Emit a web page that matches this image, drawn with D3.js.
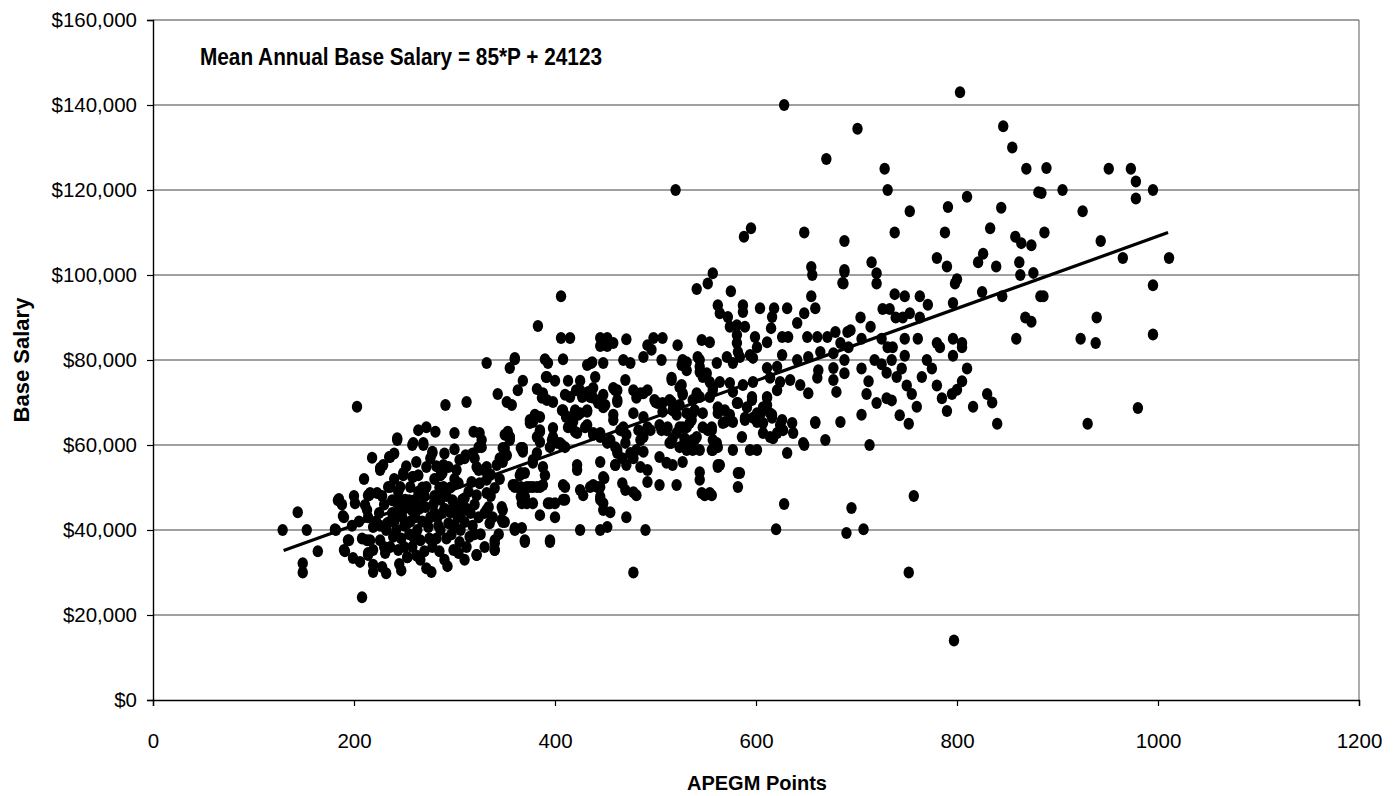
<!DOCTYPE html>
<html>
<head>
<meta charset="utf-8">
<script src="https://cdn.jsdelivr.net/npm/d3@7"></script>
<style>
  body { margin: 0; background: #fff; }
  svg text { font-family: "Liberation Sans", Arial, sans-serif; }
</style>
</head>
<body>
<div class="chart"></div>
<script>
// tick values
const xTicks = [0, 200, 400, 600, 800, 1000, 1200];
const yTicks = [0, 20000, 40000, 60000, 80000, 100000, 120000, 140000, 160000];

// regression: salary = 85 * points + 24123, drawn over this range of points
const trendCoef = [85, 24123];
const trendRange = [130, 1010];

// [APEGM points, base salary in $1000]
const ptsLeft = [
  [129,40],[144,44.2],[153,40],[149,32.2],[149,30],[164,35],[182,40],[184,47],[188,46],[190,43],[195,37.6],[191,35],
  [199,33.4],[206,32.5],[203,69],[201,46.3],[208,24.2],[214,48.2],[213,44.7],[213,37.6],[214,34.6],
  [181,40.2],[185,47.3],[189,43.3],[194,37.6],[190,35.3],[211,45.9],[215,48.2],[223,48.7],[226,54.1],[229,55.3],
  [235,57.2],[234,50.1],[246,50.1],[249,53.4],[258,52.5],[256,50.1],[264,52.9],[272,54.8],[278,58.1],[243,61.2],
  [258,60],[269,60],[276,56.9],[214,43],[219,40.7],[216,37.6],[219,35.3],[214,34.1],[219,31.8],[219,30.1],[228,31.3],
  [231,34.6],[226,37.6],[233,41.6],[239,38.4],[238,44],[243,46.3],[251,47.1],[248,43],[253,41.6],[244,35.3],[253,33.6],
  [261,47.1],[261,43],[266,37.6],[263,40],[272,50.1],[271,45.4],[274,40.7],[278,36],[277,30.1],[283,43],[286,47.1],
  [286,40],[288,53.4],[289,50.1],[294,54.8],[296,44.2],[299,35.3],[294,41.6],[302,54.1],[304,51],[307,44.2],[308,47.1],
  [305,37.2],[304,34.6],[310,41.9],[310,56.9],[315,38.4],[317,51.3],[322,54.8],[322,34.1],[322,48.2],[324,43],[327,59.5],
  [329,54.1],[332,51.8],[334,45.4],[335,41.6],[340,49.9],[340,37.6],[340,35.3],[347,45.4],[348,41.9],[350,59.3],
  [355,61.2],[348,56],[360,50.6],[365,52.9],[367,46.3],[360,40.2],[370,37.6],[367,59.3],[370,47.8],
  [225,44],[230,46],[236,42],[242,40],[247,38],[250,45],[255,39],[258,44.5],[265,45],[268,42],[276,43],[280,48],
  [282,38],[290,45],[292,38],[298,47],[300,41],[303,43],[312,45],[318,41],[320,46],[326,39],[330,44],[336,48],
  [338,43],[344,39],[236,36],[245,32],[258,36],[262,34],[270,35],[285,35],[290,33],[312,36],[330,36],[222,42],
  [228,48],[240,52],[252,55],[262,56],[268,50],[280,52],[296,50],[300,52],[314,49],[325,51],[336,53],[345,52],
  [318,58],[300,59],[290,58],[240,58],[218,57],[210,52],[205,42],[198,41],[208,38],[200,48],
  [232,29.8],[247,30.5],[272,31],[266,33],[293,31.5],[310,33],[245,44],[270,48],[282,55],
  [232,40],[238,47],[244,49],[250,41],[255,47],[260,38],[264,49],[268,45.5],[275,38],[279,46],[284,41],[288,44],
  [292,48],[297,39],[302,45.5],[306,40],[310,47.5],[316,44],[320,39],[226,41],[230,36],[250,36],[256,42],[262,46],
  [280,44],[285,50],[240,42],[246,47]
];

const ptsMid = [
  [406,95],[383,88],[406,85.2],[415,85.2],[445,85.2],[452,85.2],[445,83.3],[452,83.3],[332,79.3],[360,80.2],[355,78.1],
  [390,80.2],[393,79.3],[408,80.2],[432,78.8],[436,79.3],[448,79.3],[440,76],[368,75.1],[363,72.9],[343,72],[391,76],
  [400,75.1],[413,75.1],[425,75.1],[382,73.2],[388,72.2],[387,71.1],[392,70.6],[398,70.1],[410,71.8],[415,71.3],
  [425,72.9],[438,73.4],[435,71.3],[445,70.6],[450,69.4],[352,70.1],[357,69.4],[291,69.4],[312,70.1],[408,68.2],
  [413,66.6],[418,65.4],[423,67.1],[432,67.8],[432,64.7],[420,63.1],[385,66.6],[378,65.4],[375,65.2],[385,63.1],
  [385,60.7],[398,64],[397,61.2],[405,60.5],[410,59.5],[395,59.5],[438,62.4],[445,62.8],[452,60.5],[445,56],
  [449,52.2],[442,50.1],[425,49.4],[428,48.2],[435,50.1],[410,50.1],[410,47.1],[445,47.1],[448,44.7],[425,40],
  [445,40],[452,40.7],[422,55.3],[422,54.1],[390,52.9],[385,50.1],[378,50.1],[372,50.1],[366,50.1],[360,50.1],
  [366,47.8],[372,46.3],[378,46.3],[385,43.5],[400,43],[395,46.3],[400,46.3],[370,53.4],[366,59.3],[368,58.4],
  [378,56.5],[352,57.6],[348,59.3],[350,62.4],[355,61.9],[367,40.5],[360,40.5],[370,37.2],[395,37.2],[340,36.9],
  [340,35.3],[322,34.1],[348,44.7],[347,42.4],[325,62.8],[327,61.2],[324,59.5],[319,63.1],[300,62.8],[281,63.1],
  [272,64.2],[264,63.5],[259,60.5],[269,60.5],[243,61.6],[278,58.4],[236,57.2],[226,54.6],[249,52.9],[259,52.5],
  [289,55.3],[286,52.9],[305,56.5],[311,57.6],[320,56.9],[332,54.8],[324,54.1],[342,55.3],[236,50.1],[216,48.7],
  [271,49.9],[296,44.7],[305,44.7],[308,47.1],[332,48.7],[332,44.7],[253,33.6],
  [458,84],[471,84.9],[492,83.5],[498,85.2],[507,85.2],[496,82.4],[506,80],[522,83.5],[546,84.7],[554,84.2],
  [488,80.7],[468,80],[475,79.3],[360,80.5],[437,79.5],[392,76],[470,75.3],[516,75.8],[526,78.8],[531,79.5],
  [544,80],[544,77.2],[547,76],[554,74.8],[526,74.1],[527,72.2],[557,72.9],[541,72.2],[421,72.9],[427,71.3],
  [433,72.5],[438,71.1],[443,69.9],[448,68.9],[460,72.9],[462,70.6],[478,72.9],[485,72.2],[492,72.9],[481,71.1],
  [500,70.1],[507,69.9],[514,70.6],[517,68.2],[507,67.8],[478,67.5],[488,66.6],[492,64.2],[504,64.7],[511,63.5],
  [521,67.1],[524,64.2],[539,68.2],[536,65.9],[547,64.2],[552,63.5],[557,61.2],[517,61.6],[529,61.6],[536,60.5],
  [541,61.9],[514,60.5],[531,58.8],[537,58.8],[527,56],[517,55.3],[562,54.8],[544,53.6],[544,51.8],[546,48.7],
  [554,48.7],[504,50.6],[521,50.6],[492,51.3],[478,48.9],[481,48.2],[492,54.1],[485,54.8],[478,56.9],[475,58.1],
  [481,58.8],[485,61.2],[470,60.5],[471,62.4],[465,63.5],[458,65.9],[455,61.2],[460,59.5],[462,58.1],[467,56.9],
  [471,55.3],[467,51],[470,49.4],[460,55.3],[448,52.5],[438,50.6],[445,50.1],[445,47.8],[448,46.3],[455,44.2],
  [408,50.6],[408,47.1],[471,43],[490,40],[395,37.6],[360,40],[350,41.9],[393,46.3],[358,50.6],[366,49.4],
  [375,50.1],[382,50.1],[388,50.6],[366,53.4],[378,55.8],[388,54.8],[382,58.1],[402,60.5],[407,60],[398,61.9],
  [382,61.9],[385,63.5],[375,65.9],[380,67.1],[368,59.3],[353,63.1],[355,61.9],[345,56.9],[413,64.2],[407,68.2],
  [411,66.6],[415,65.4],[420,68.2],[425,67.5],[432,68.2],[430,64.2],[445,61.9],[438,62.8],[422,62.8],[452,60.7],
  [478,30],[520,120]
];

const ptsUpperMid = [
  [595,111],[588,109],[648,110],[688,108],[557,100.4],[552,98],[541,96.7],[575,96.2],[655,101.9],[656,100],[688,101.2],
  [686,98.1],[655,95],[659,92.2],[648,91],[641,88.7],[562,92.9],[564,91],[587,92.9],[587,91.3],[604,92.2],[618,92.2],
  [631,92.2],[616,90.1],[615,87.5],[572,90.1],[574,87.8],[581,88.2],[589,87.8],[679,86.6],[691,86.6],[626,85.4],
  [632,85.4],[651,85.4],[661,85.4],[671,85.4],[581,85.9],[599,85.4],[611,84.2],[581,84],[684,84],[582,81.9],
  [594,81.2],[601,83],[527,79.3],[542,80.7],[544,78.4],[561,79.3],[571,80.7],[577,79.3],[584,80.7],[597,80.5],
  [611,78.1],[621,78.4],[626,81.2],[641,80],[652,80.7],[664,81.9],[677,81.6],[692,83],[688,80],[662,77.6],[677,78.1],
  [688,76.9],[677,75.3],[680,72.5],[661,75.8],[652,72.2],[644,74.1],[634,75.3],[624,74.8],[614,75.8],[621,72.9],
  [611,71.1],[607,68.9],[614,67.5],[601,67.5],[601,65.4],[616,66.4],[626,65.9],[636,65.2],[637,62.8],[627,63.5],
  [659,65.4],[684,65.4],[669,61.2],[648,60],[631,58.1],[617,61.6],[621,62.8],[607,62.8],[594,58.8],[601,58.8],
  [577,58.8],[584,53.4],[562,55.3],[557,58.8],[562,59.5],[556,64.2],[569,65.4],[577,65.4],[589,66.4],[597,66.4],
  [591,68.9],[596,71.3],[611,71.3],[577,72.5],[581,69.9],[569,68.2],[562,68.9],[554,71.3],[557,73.6],[564,74.8],
  [574,74.6],[587,74.1],[597,74.8],[551,76.9],[527,80],[531,77.6],[516,75.3],[524,73.6],[527,71.8],[537,70.6],
  [544,71.3],[547,67.5],[537,67.5],[524,69.4],[516,70.1],[502,69.9],[499,70.6],[488,72.2],[462,72.9],[458,73.4],
  [448,71.8],[448,69.4],[462,70.1],[458,67.1],[468,64.2],[483,63.5],[495,63.5],[506,63.5],[512,64.2],[521,62.8],
  [527,64.2],[534,65.2],[524,59.5],[537,61.2],[516,60.5],[511,55.8],[504,57.2],[488,58.4],[477,57.2],[462,58.8],
  [460,55.3],[488,61.9],[544,58.8],
  [531,67.5],[531,64.2],[529,61.2],[539,61.2],[549,48.2],[556,48.2],[556,63.5],[561,60.5],[556,58.8],[564,55.3],
  [562,67.5],[567,65.2],[574,67.1],[582,69.9],[586,61.9],[582,53.4],[582,50.1],[589,65.9],[596,70.6],[604,67.1],
  [607,65.2],[611,69.4],[616,67.1],[614,61.9],[624,64.7],[647,60.5],[659,65.2],[705,67.1],[713,60],[720,69.9],
  [628,46.1],[620,40.2],[695,45.2],[690,39.3],[707,40.2],[628,140],[670,127.3]
];

const ptsRight = [
  [803,143],[701,134.4],[846,135],[855,130],[869,125],[728,125],[731,120],[881,119.5],[810,118.4],[791,116],[753,115],
  [844,115.8],[788,110],[738,110],[833,111],[858,109],[864,107.5],[874,107],[780,104],[826,105],[821,103],[839,102],
  [790,102],[862,103],[715,103],[688,100.7],[687,98],[720,100.4],[720,98],[800,99],[798,98],[863,100],[876,100.5],
  [883,95],[825,96],[845,95],[796,93.4],[738,95.5],[748,95],[763,95],[771,93],[726,92],[733,92],[739,90],[753,91],
  [746,90],[763,90],[704,90],[868,90],[874,89],[714,87.8],[694,87],[748,85],[761,85],[859,85],[780,84],[796,85],
  [805,84],[805,83],[783,83],[725,85],[705,85],[731,83],[736,83],[748,81],[796,81],
  [889,125.2],[884,119.3],[905,120],[951,125],[973,125],[978,122],[978,118],[995,120],[925,115],[887,110],[943,108],
  [965,104],[1011,104],[886,95],[995,97.6],[939,90],[923,85],[938,84],[995,86],[980,68.7],[930,65],
  [705,78],[712,75],[718,80],[710,72],[725,79],[730,77],[735,80],[740,76],[745,78],[750,74],[730,71],[735,70.5],
  [755,72],[760,69],[743,67],[752,65],[765,76],[770,80],[775,78],[780,74],[785,71],[790,68],[795,72],[800,73],
  [805,75],[810,78],[816,69],[830,72],[835,70],[840,65],[757,48],[752,30],[797,14]
];

const W = 1394, H = 796;
const plot = { left: 153, right: 1359, top: 20, bottom: 700 };

const svg = d3.select(".chart").append("svg")
  .attr("width", W).attr("height", H);

const x = d3.scaleLinear().domain([0, 1200]).range([plot.left, plot.right]);
const y = d3.scaleLinear().domain([0, 160000]).range([plot.bottom, plot.top]);

// gridlines
svg.append("g").selectAll("line")
  .data(yTicks.filter(d => d > 0))
  .enter().append("line")
  .attr("x1", plot.left).attr("x2", plot.right)
  .attr("y1", d => y(d)).attr("y2", d => y(d))
  .attr("stroke", "#808080").attr("stroke-width", 1.3);

// right frame
svg.append("line")
  .attr("x1", plot.right).attr("x2", plot.right)
  .attr("y1", plot.top).attr("y2", plot.bottom)
  .attr("stroke", "#808080").attr("stroke-width", 1.3);

// axes
const yAxis = svg.append("g")
  .attr("transform", `translate(${plot.left},0)`)
  .call(d3.axisLeft(y).tickValues(yTicks).tickSize(6).tickPadding(10)
    .tickFormat(d => "$" + d3.format(",")(d)));
const xAxis = svg.append("g")
  .attr("transform", `translate(0,${plot.bottom})`)
  .call(d3.axisBottom(x).tickValues(xTicks).tickSize(6).tickPadding(27)
    .tickFormat(d3.format("d")));

[yAxis, xAxis].forEach(g => {
  g.select(".domain").attr("stroke", "#000").attr("stroke-width", 1.4);
  g.selectAll(".tick line").attr("stroke", "#000").attr("stroke-width", 1.2);
  g.selectAll(".tick text").attr("fill", "#000")
    .style("font-size", "20.5px");
});

// points
const allPts = ptsLeft.concat(ptsMid, ptsUpperMid, ptsRight);
svg.append("g").selectAll("ellipse")
  .data(allPts)
  .enter().append("ellipse")
  .attr("cx", d => x(d[0]))
  .attr("cy", d => y(d[1] * 1000))
  .attr("rx", 5.2).attr("ry", 6)
  .attr("fill", "#000");

// trend line
svg.append("line")
  .attr("x1", x(trendRange[0])).attr("y1", y(trendCoef[0] * trendRange[0] + trendCoef[1]))
  .attr("x2", x(trendRange[1])).attr("y2", y(trendCoef[0] * trendRange[1] + trendCoef[1]))
  .attr("stroke", "#000").attr("stroke-width", 3.2);

// annotation
svg.append("text")
  .attr("x", 200).attr("y", 65)
  .attr("textLength", 402).attr("lengthAdjust", "spacingAndGlyphs")
  .style("font-size", "23px").style("font-weight", "bold")
  .text("Mean Annual Base Salary = 85*P + 24123");

// axis titles
svg.append("text")
  .attr("transform", "translate(29,360) rotate(-90)")
  .attr("text-anchor", "middle")
  .style("font-size", "22px").style("font-weight", "bold")
  .text("Base Salary");

svg.append("text")
  .attr("x", 757).attr("y", 790)
  .attr("text-anchor", "middle")
  .style("font-size", "20px").style("font-weight", "bold")
  .text("APEGM Points");
</script>
</body>
</html>
